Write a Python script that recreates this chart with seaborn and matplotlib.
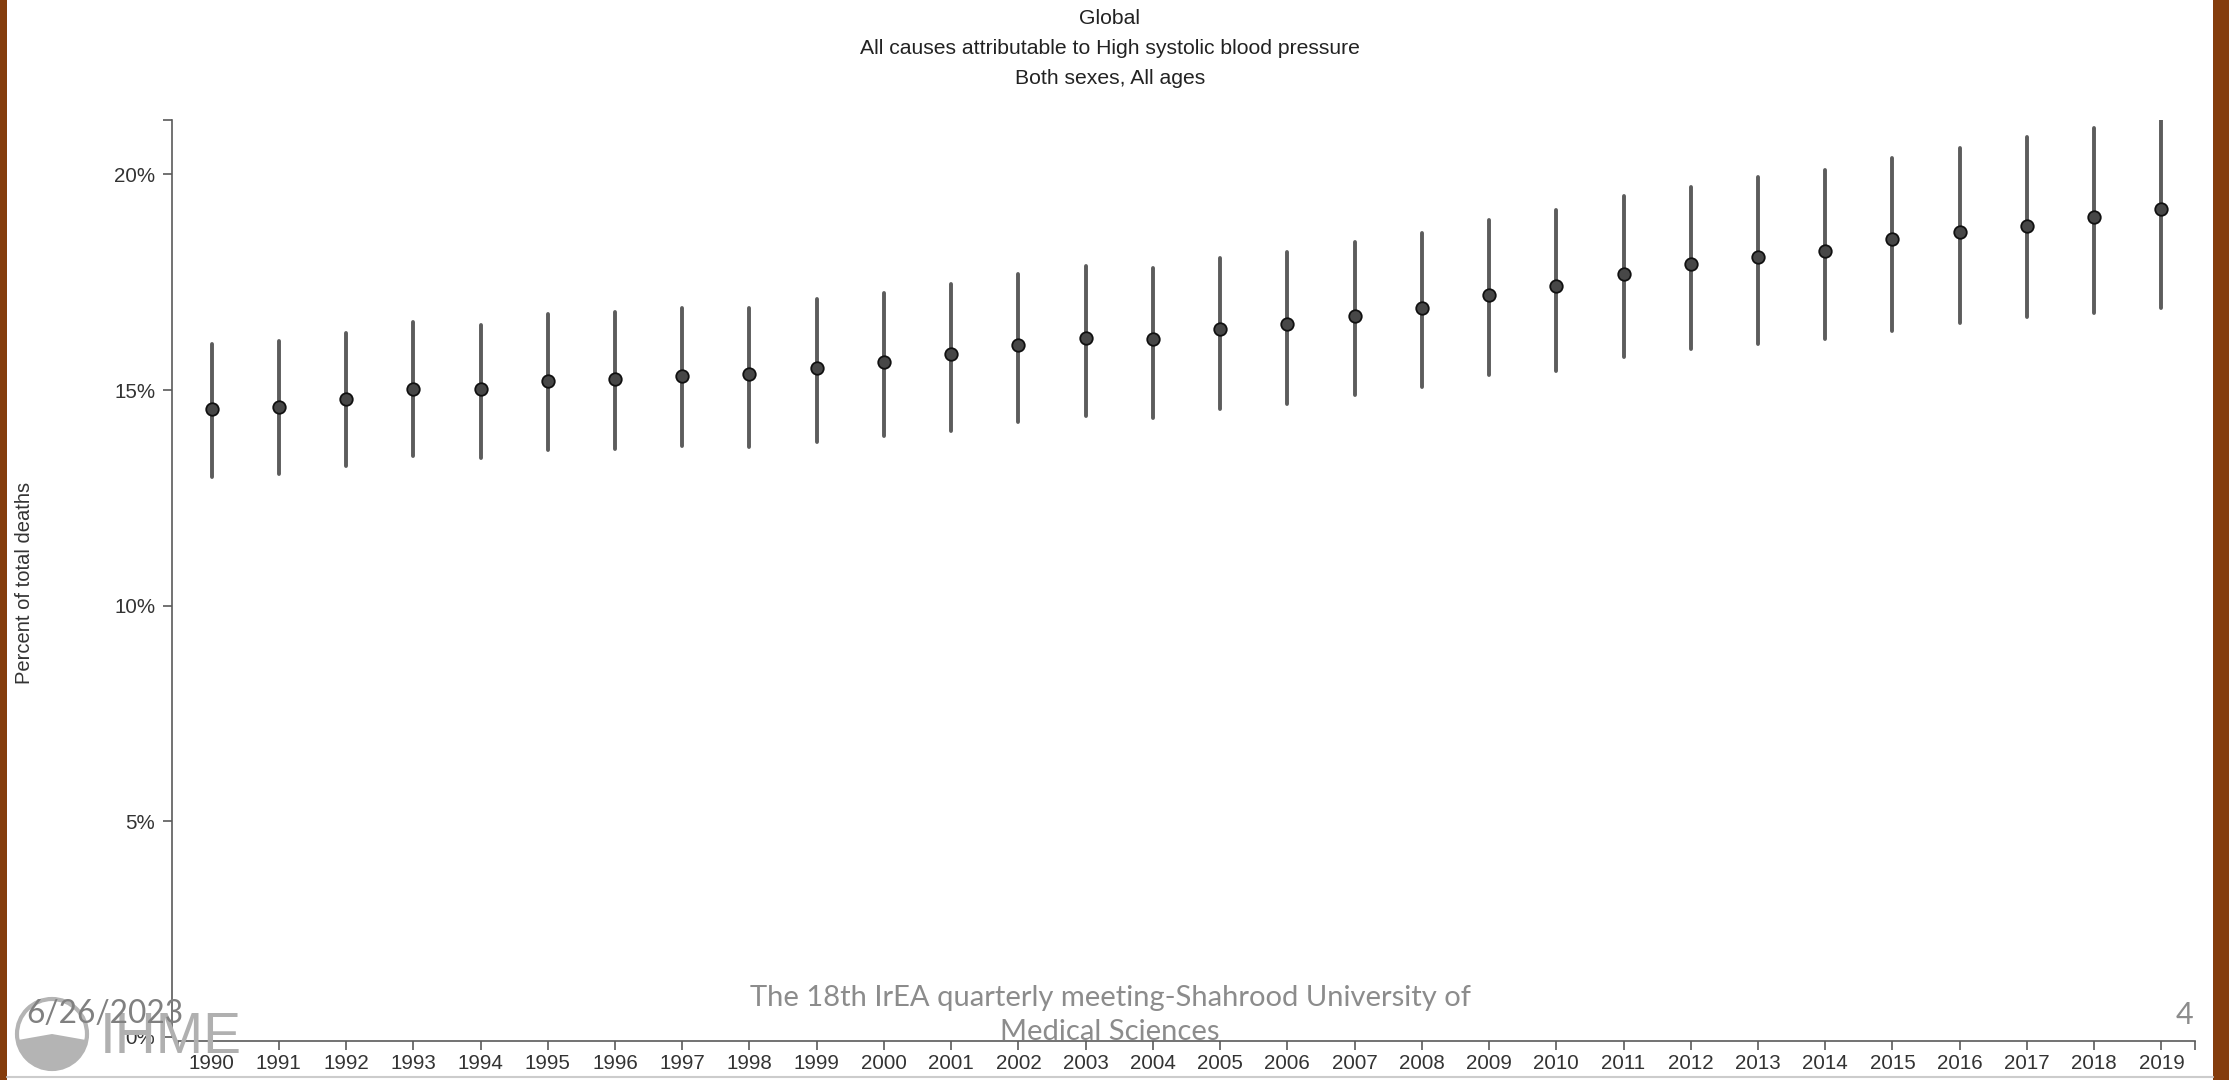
import numpy as np
import pandas as pd
import matplotlib
matplotlib.use("Agg")
import matplotlib.pyplot as plt
import seaborn as sns
from matplotlib.patches import Rectangle, Ellipse, Wedge

years = [str(y) for y in range(1990, 2020)]
mean_vals = [14.55, 14.60, 14.78, 15.03, 15.02, 15.20, 15.26, 15.33, 15.37, 15.50,
             15.66, 15.83, 16.05, 16.21, 16.19, 16.41, 16.53, 16.72, 16.90, 17.21,
             17.41, 17.70, 17.91, 18.09, 18.23, 18.49, 18.67, 18.81, 19.00, 19.19]
upper_vals = [16.07, 16.13, 16.32, 16.57, 16.51, 16.76, 16.81, 16.90, 16.90, 17.10,
              17.25, 17.46, 17.70, 17.88, 17.83, 18.06, 18.20, 18.44, 18.65, 18.95,
              19.18, 19.49, 19.70, 19.93, 20.09, 20.37, 20.60, 20.86, 21.07, 21.26]
lower_vals = [12.98, 13.06, 13.23, 13.47, 13.43, 13.60, 13.63, 13.70, 13.68, 13.80,
              13.94, 14.06, 14.26, 14.40, 14.36, 14.57, 14.67, 14.88, 15.06, 15.34,
              15.45, 15.77, 15.95, 16.07, 16.19, 16.37, 16.56, 16.70, 16.79, 16.91]
y_ticks = [0, 5, 10, 15, 20]
y_tick_labels = ["0%", "5%", "10%", "15%", "20%"]
title_lines = ["Global",
               "All causes attributable to High systolic blood pressure",
               "Both sexes, All ages"]
y_label = "Percent of total deaths"
footer_date = "6/26/2023"
footer_center = "The 18th IrEA quarterly meeting-Shahrood University of\nMedical Sciences"
footer_page = "4"

df = pd.DataFrame({
    "year": np.repeat(years, 3),
    "value": np.ravel(np.column_stack([lower_vals, mean_vals, upper_vals])),
})

sns.set_theme(style="white")
plt.rcParams["font.family"] = ["Liberation Sans", "DejaVu Sans"]

W, H = 2229, 1080
fig = plt.figure(figsize=(W / 100, H / 100), dpi=100)
fig.patch.set_facecolor("white")

ax_left, ax_right, ax_top, ax_bottom = 178, 2195, 120, 1037
ax = fig.add_axes([ax_left / W, 1 - ax_bottom / H, (ax_right - ax_left) / W, (ax_bottom - ax_top) / H])
ax.set_facecolor("none")

sns.pointplot(data=df, x="year", y="value", order=years,
              estimator="median", errorbar=("pi", 100),
              color="#444444", linestyle="none", marker="o",
              markersize=9, markerfacecolor="#474747", markeredgecolor="#111111",
              markeredgewidth=1.3, zorder=3,
              err_kws={"color": "#5c5c5c", "linewidth": 2.8, "zorder": 2},
              ax=ax)

ymax = max(upper_vals)
ax.set_ylim(0, ymax)
ax.set_xlim(-0.5, len(years) - 0.5)
ax.set_yticks(y_ticks)
ax.set_yticklabels(y_tick_labels)
ax.set_yticks([ymax], minor=True)
ax.set_xticks([-0.5, len(years) - 0.5], minor=True)
ax.set_xlabel("")
ax.set_ylabel(y_label, fontsize=14.5, color="#333333")
ax.yaxis.set_label_coords((34 - ax_left) / (ax_right - ax_left), 0.495)

for s in ["top", "right"]:
    ax.spines[s].set_visible(False)
for s in ["left", "bottom"]:
    ax.spines[s].set_color("#5a5a5a")
    ax.spines[s].set_linewidth(1.2)
ax.spines["left"].set_position(("outward", 4.3))
ax.spines["bottom"].set_position(("outward", 3))

ax.tick_params(axis="both", which="both", length=6.5, width=1.2, color="#5a5a5a",
               labelcolor="#333333", labelsize=14.8, left=True, bottom=True)
ax.tick_params(axis="y", which="major", pad=5.5)
ax.tick_params(axis="x", which="major", pad=2.5)
ax.grid(False)

# Titles
for i, line in enumerate(title_lines):
    fig.text(1110 / W, 1 - (18 + 30.5 * i) / H, line, ha="center", va="center",
             fontsize=15.2, color="#222222")

# Slide border
fig.patches.append(Rectangle((0, 0), 7 / W, 1, transform=fig.transFigure,
                             facecolor="#843C0C", edgecolor="none", zorder=0))
fig.patches.append(Rectangle((2213 / W, 0), 16 / W, 1, transform=fig.transFigure,
                             facecolor="#843C0C", edgecolor="none", zorder=0))
fig.lines.append(plt.Line2D([7 / W, 2213 / W], [3 / H, 3 / H], transform=fig.transFigure,
                            color="#cccccc", linewidth=1.5))

# IHME logo (faint)
cx, cy, r = 52, 1034, 35
fig.patches.append(Ellipse((cx / W, 1 - cy / H), 2 * r / W, 2 * r / H, transform=fig.transFigure,
                           facecolor="none", edgecolor="#b4b4b4", linewidth=3, zorder=0))
fig.patches.append(Wedge((cx, H - cy), r, 190, 350, transform=None,
                         facecolor="#b4b4b4", edgecolor="none", zorder=0))
fig.text(100 / W, 1 - 1038 / H, "IHME", ha="left", va="center", fontsize=41,
         color="#b0b0b0", family=["Liberation Sans", "DejaVu Sans"], fontweight="normal", zorder=0)

# Slide footer
fig.text(26 / W, 1 - 1014 / H, footer_date, ha="left", va="center", fontsize=22.8,
         color="#808080", family=["Lato", "DejaVu Sans"])
fig.text(1110 / W, 1 - 1015 / H, footer_center, ha="center", va="center", fontsize=21,
         color="#8c8c8c", family=["Lato", "DejaVu Sans"], linespacing=1.38)
fig.text(2193 / W, 1 - 1015 / H, footer_page, ha="right", va="center", fontsize=22,
         color="#8c8c8c", family=["Lato", "DejaVu Sans"])

fig.savefig("out.png", dpi=100, facecolor="white")
